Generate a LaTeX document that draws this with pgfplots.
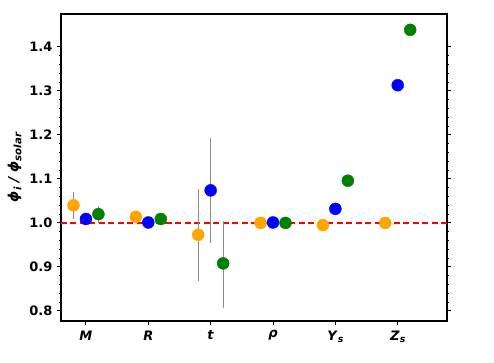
\documentclass[border=0pt]{standalone}
\usepackage{fontspec}
\setmainfont{DejaVu Sans}
\usepackage{pgfplots}
\pgfplotsset{compat=1.18}
\definecolor{cOrange}{HTML}{FFA500}
\definecolor{cBlue}{HTML}{0000FF}
\definecolor{cGreen}{HTML}{008000}
\newcommand\sub[1]{\raisebox{-0.22em}{\fontsize{9.3bp}{10bp}\selectfont\bfseries\itshape #1}}
\newcommand\subL[1]{\raisebox{-0.22em}{\fontsize{10.2bp}{11bp}\selectfont\bfseries\itshape #1}}
\begin{document}
\fontsize{13bp}{15bp}\selectfont
\begin{tikzpicture}
\path[use as bounding box] (-61bp,-42bp) rectangle (433bp,321bp);
\begin{axis}[
  scale only axis,
  width=386bp, height=307bp,
  xmin=-0.4, xmax=5.79,
  ymin=0.777, ymax=1.475,
  xtick={0,1,2,3,4,5},
  xticklabels={\textbf{\textit{M}},\textbf{\textit{R}},\textbf{\textit{t}},\textbf{\textit{ρ}},\textbf{\textit{Y}}\sub{s},\textbf{\textit{Z}}\sub{s}},
  ytick={0.8,0.9,1.0,1.1,1.2,1.3,1.4},
  yticklabels={0.8,0.9,1.0,1.1,1.2,1.3,1.4},
  minor y tick num=4,
  tick align=outside,
  xtick pos=bottom,
  ytick pos=both,
  yticklabel pos=left,
  major tick length=4bp,
  minor tick length=2.2bp,
  every tick/.style={black, line width=1bp},
  axis line style={line width=1.6bp},
  ticklabel style={font=\bfseries},
  /pgf/number format/assume math mode=true,
  xticklabel style={yshift=-1bp},
  ylabel={\fontsize{14bp}{16bp}\selectfont\bfseries\itshape ϕ\subL{i} / ϕ\subL{solar}},
  ylabel style={yshift=-1bp},
  error bars/error bar style={gray!90, line width=1bp},
  error bars/error mark=none,
]
\addplot[red, line width=1.5bp, dash pattern=on 6bp off 3.5bp] coordinates {(-0.4,1) (5.79,1)};
% orange
\addplot[only marks, mark=*, mark size=6bp, cOrange, mark options={fill=cOrange, draw=cOrange},
  error bars/.cd, y dir=both, y explicit] coordinates {
  (-0.2,1.040) += (0,0.030) -= (0,0.032)
  (0.8,1.014) +- (0,0)
  (1.8,0.973) += (0,0.104) -= (0,0.105)
  (2.8,1.000) +- (0,0)
  (3.8,0.995) +- (0,0.007)
  (4.8,1.000) +- (0,0)
};
% blue
\addplot[only marks, mark=*, mark size=6bp, cBlue, mark options={fill=cBlue, draw=cBlue},
  error bars/.cd, y dir=both, y explicit] coordinates {
  (0,1.009) +- (0,0)
  (1,1.001) +- (0,0)
  (2,1.074) +- (0,0.119)
  (3,1.001) +- (0,0)
  (4,1.032) +- (0,0)
  (5,1.313) +- (0,0)
};
% green
\addplot[only marks, mark=*, mark size=6bp, cGreen, mark options={fill=cGreen, draw=cGreen},
  error bars/.cd, y dir=both, y explicit] coordinates {
  (0.2,1.020) += (0,0.019) -= (0,0.020)
  (1.2,1.009) +- (0,0)
  (2.2,0.908) += (0,0.097) -= (0,0.101)
  (3.2,1.000) +- (0,0)
  (4.2,1.096) +- (0,0)
  (5.2,1.439) +- (0,0)
};
\end{axis}
\end{tikzpicture}
\end{document}
